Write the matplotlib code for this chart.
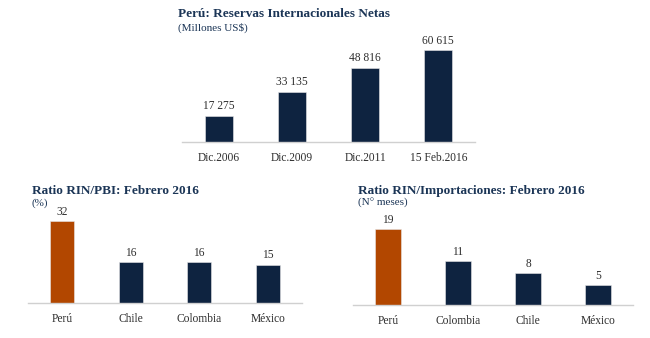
import matplotlib.pyplot as plt

# datos
rin_fechas = ["Dic.2006", "Dic.2009", "Dic.2011", "15 Feb.2016"]
rin_valores = [17275, 33135, 48816, 60615]
rin_etiquetas = ["17 275", "33 135", "48 816", "60 615"]

pbi_paises = ["Perú", "Chile", "Colombia", "México"]
pbi_valores = [32, 16, 16, 15]

imp_paises = ["Perú", "Colombia", "Chile", "México"]
imp_valores = [19, 11, 8, 5]

AZUL = "#0E2340"
NARANJA = "#B24700"
TITULO = "#1B3556"
TEXTO = "#2E2E2E"
W, H = 650, 338

plt.rcParams['font.family'] = ['Liberation Serif', 'DejaVu Serif']

fig = plt.figure(figsize=(W / 100, H / 100), dpi=100)


def panel(x0, base, ancho, alto, escala, cats, vals, etiquetas, colores, bw):
    # x0, base en pixeles; escala = px por unidad
    ax = fig.add_axes([x0 / W, (H - base) / H, ancho / W, alto / H])
    ax.bar(range(len(vals)), vals, width=bw, color=colores, edgecolor="#E8E8E8", linewidth=0.4)
    ax.set_xlim(-0.5, len(vals) - 0.5)
    ax.set_ylim(0, alto / escala)
    for s in ["top", "right", "left"]:
        ax.spines[s].set_visible(False)
    ax.spines["bottom"].set_color("#D0D0D0")
    ax.spines["bottom"].set_linewidth(1.0)
    ax.set_yticks([])
    ax.set_xticks(range(len(vals)))
    ax.set_xticklabels(cats, fontsize=8.3, color=TEXTO)
    ax.tick_params(axis="x", length=0, pad=7.5)
    for i, (v, t) in enumerate(zip(vals, etiquetas)):
        ax.annotate(t, (i, v), xytext=(0, 2.5), textcoords="offset points",
                    ha="center", va="bottom", fontsize=8.3, color=TEXTO)
    return ax


panel(182, 141.7, 293, 130, 91.7 / 60615, rin_fechas, rin_valores, rin_etiquetas,
      [AZUL] * 4, 0.38)
panel(28, 303, 274, 100, 82 / 32, pbi_paises, pbi_valores, [str(v) for v in pbi_valores],
      [NARANJA] + [AZUL] * 3, 0.35)
panel(353, 305, 280, 100, 4.0, imp_paises, imp_valores, [str(v) for v in imp_valores],
      [NARANJA] + [AZUL] * 3, 0.36)

# titulos
fig.text(178 / W, 1 - 14 / H, "Perú: Reservas Internacionales Netas", fontsize=9.5,
         fontweight="bold", color=TITULO, va="center")
fig.text(178 / W, 1 - 28 / H, "(Millones US$)", fontsize=8, color=TITULO, va="center")
fig.text(32 / W, 1 - 191 / H, "Ratio RIN/PBI: Febrero 2016", fontsize=9.5,
         fontweight="bold", color=TITULO, va="center")
fig.text(32 / W, 1 - 203.5 / H, "(%)", fontsize=8, color=TITULO, va="center")
fig.text(358 / W, 1 - 191 / H, "Ratio RIN/Importaciones: Febrero 2016", fontsize=9.5,
         fontweight="bold", color=TITULO, va="center")
fig.text(358 / W, 1 - 203.5 / H, "(N° meses)", fontsize=8, color=TITULO, va="center")

fig.savefig("out.png", dpi=100, facecolor="white")
